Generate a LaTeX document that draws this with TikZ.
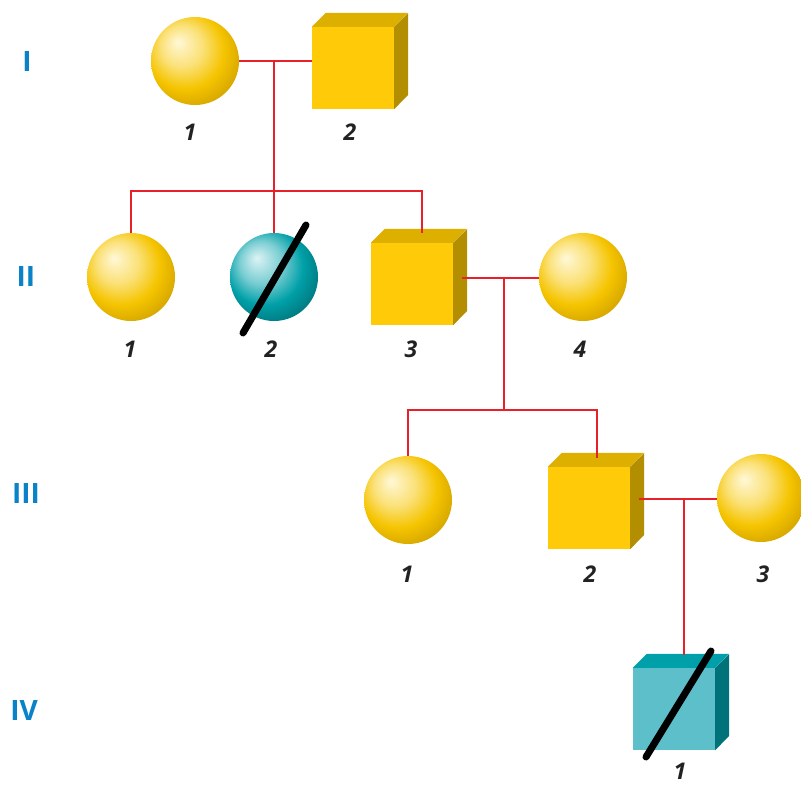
\documentclass[tikz,border=0pt]{standalone}
\usepackage{fontspec}
\setmainfont{Open Sans}
\definecolor{gold}{HTML}{F5C400}
\definecolor{goldlt}{HTML}{FFF8D8}
\definecolor{golddk}{HTML}{CFA000}
\definecolor{cubefront}{HTML}{FFCA08}
\definecolor{cubetop}{HTML}{DDB000}
\definecolor{cubeside}{HTML}{B28E00}
\definecolor{teal}{HTML}{00A0A8}
\definecolor{teallt}{HTML}{DDF3F5}
\definecolor{tealdk}{HTML}{007178}
\definecolor{tfront}{HTML}{5DBFCA}
\definecolor{ttop}{HTML}{00A0AA}
\definecolor{tside}{HTML}{00737A}
\definecolor{linered}{HTML}{E8202A}
\definecolor{genblue}{HTML}{0A82C8}
\definecolor{numgray}{HTML}{222222}
\pgfdeclareradialshading{goldball}{\pgfpoint{-10bp}{11bp}}{color(0bp)=(goldlt); color(12bp)=(gold!45!goldlt); color(22bp)=(gold); color(33bp)=(golddk); color(50bp)=(golddk)}
\pgfdeclareradialshading{tealball}{\pgfpoint{-10bp}{11bp}}{color(0bp)=(teallt); color(12bp)=(teal!45!teallt); color(22bp)=(teal); color(33bp)=(tealdk); color(50bp)=(tealdk)}
\tikzset{
  sphere/.style={circle, minimum size=88pt, inner sep=0pt, shading=goldball},
  tealsphere/.style={circle, minimum size=88pt, inner sep=0pt, shading=tealball},
  cubebox/.style={rectangle, minimum size=82pt, inner sep=0pt, fill=cubefront},
  tealcube/.style={rectangle, minimum size=82pt, inner sep=0pt, fill=tfront},
  rel/.style={draw=linered, line width=2.8pt},
  slash/.style={line width=7pt, line cap=round, black},
  num/.style={inner sep=1pt, font=\fontsize{23}{23}\selectfont\bfseries\itshape, text=numgray},
  gen/.style={inner sep=1pt, font=\fontsize{28}{28}\selectfont\bfseries, text=genblue},
}
\newcommand\cubefaces[3]{%
  \fill[#2] (#1.north west) -- ++(14,-14) -- ++(82,0) -- (#1.north east) -- cycle;
  \fill[#3] (#1.north east) -- ++(14,-14) -- ++(0,82) -- (#1.south east) -- cycle;
}
\begin{document}
\begin{tikzpicture}[x=1pt,y=-1pt]
\useasboundingbox (0,0) rectangle (801,786);
% generation labels
\node[gen] (gI) at (27,62) {I};
\node[gen] (gII) at (26,277) {II};
\node[gen] (gIII) at (26,494) {III};
\node[gen] (gIV) at (24,711) {IV};
% generation I
\node[sphere] (I1) at (195,61) {};
\node[cubebox] (I2) at (353,68) {};
\cubefaces{I2}{cubetop}{cubeside}
% generation II
\node[sphere] (II1) at (131,277) {};
\node[tealsphere] (II2) at (274,277) {};
\node[cubebox] (II3) at (412,284) {};
\cubefaces{II3}{cubetop}{cubeside}
\node[sphere] (II4) at (583,277) {};
% generation III
\node[sphere] (III1) at (408,500) {};
\node[cubebox] (III2) at (589,508) {};
\cubefaces{III2}{cubetop}{cubeside}
\node[sphere] (III3) at (761,498) {};
% generation IV
\node[tealcube] (IV1) at (674,709) {};
\cubefaces{IV1}{ttop}{tside}
% coordinates for connectors
\coordinate (m1) at (274,61);
\coordinate (s1) at (274,191);
\coordinate (II3top) at (422,233);
\coordinate (II3side) at (462,278);
\coordinate (m2) at (504,278);
\coordinate (s2) at (504,410);
\coordinate (III2top) at (597,458);
\coordinate (III2side) at (639,499);
\coordinate (m3) at (684,499);
\coordinate (IV1top) at (684,655);
% connectors
\draw[rel] (I1.east |- m1) -- (I2.west |- m1);
\draw[rel] (m1) -- (s1);
\draw[rel] (II1.north) |- (II3top |- s1) -- (II3top);
\draw[rel] (s1) -- (II2.north);
\draw[rel] (II3side) -- (II4.west |- II3side);
\draw[rel] (m2) -- (s2);
\draw[rel] (III1.north) |- (III2top |- s2) -- (III2top);
\draw[rel] (III2side) -- (III3.west |- III2side);
\draw[rel] (m3) -- (IV1top);
% slashes
\draw[slash] ([shift={(-31,56)}]II2.center) -- ([shift={(32,-52)}]II2.center);
\draw[slash] ([shift={(-28,48)}]IV1.center) -- ([shift={(37,-58)}]IV1.center);
% numbers
\node[num] (nI1) at (190,132) {1};
\node[num] (nI2) at (350,132) {2};
\node[num] (nII1) at (130,349) {1};
\node[num] (nII2) at (271,349) {2};
\node[num] (nII3) at (411,349) {3};
\node[num] (nII4) at (580,349) {4};
\node[num] (nIII1) at (407,574) {1};
\node[num] (nIII2) at (590,574) {2};
\node[num] (nIII3) at (763,574) {3};
\node[num] (nIV1) at (680,771) {1};
\end{tikzpicture}
\end{document}
